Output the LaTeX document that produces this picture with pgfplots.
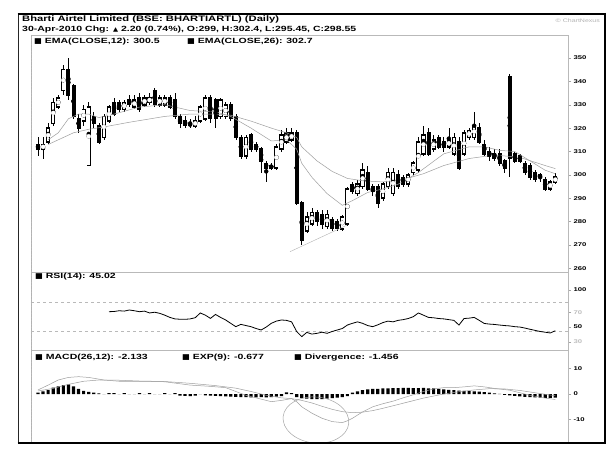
\documentclass[border=0pt]{standalone}
\usepackage{pgfplots}
\usepackage{pgfplotstable}
\pgfplotsset{compat=1.18}
\usepackage{fontspec}
\setmainfont{Liberation Sans}
\newfontfamily\hdr[FakeStretch=1.4]{Liberation Sans}
\newfontfamily\sym[FakeStretch=1.1]{DejaVu Sans}

\pgfplotstableread{
i o h l c t
0 313 316 308 311 1
1 311 316 307 313 0
2 314 322 313 320 0
3 322 333 321 331 0
4 329 334 328 333 0
5 336 347 334 345 0
6 345 350 332 334 1
7 338 339 324 325 1
8 324 326 318 320 1
9 323 330 321 328 0
10 304 331 304 329 0
11 325 327 320 322 1
12 321 322 313 314 1
13 316 326 315 325 0
14 323 330 322 329 0
15 331 333 325 326 1
16 331 332 327 328 1
17 328 332 327 331 0
18 332 334 329 330 1
19 329 334 328 332 0
20 333 335 327 328 1
21 330 334 329 333 0
22 331 335 330 333 0
23 336 337 329 330 1
24 330 334 329 333 0
25 330 334 329 333 0
26 333 334 328 329 1
27 332 335 324 325 1
28 325 326 320 322 1
29 323 325 320 321 1
30 322 324 320 321 1
31 321 325 320 323 0
32 323 330 322 329 0
33 324 334 323 333 0
34 333 334 322 324 1
35 332 333 320 324 1
36 325 333 324 332 0
37 325 331 324 330 0
38 330 331 323 324 1
39 325 326 315 316 1
40 316 317 307 308 1
41 308 317 307 316 0
42 317 318 310 311 1
43 313 314 310 311 1
44 311 312 301 306 1
45 305 306 297 303 1
46 304 305 302 303 1
47 303 313 302 312 0
48 311 319 310 317 0
49 314 320 313 318 0
50 315 320 314 318 0
51 318 319 287 288 1
52 288 289 270 272 1
53 276 284 275 282 0
54 279 286 278 284 0
55 284 285 278 280 1
56 283 285 277 279 1
57 278 285 277 283 0
58 281 282 276 277 1
59 280 281 276 277 1
60 277 283 276 282 0
61 279 295 278 294 0
62 296 297 292 293 1
63 292 298 291 296 0
64 295 305 294 302 0
65 301 304 293 294 1
66 295 296 291 293 1
67 295 296 286 288 1
68 290 297 289 296 0
69 295 303 294 301 0
70 292 303 291 301 0
71 300 302 294 295 1
72 299 300 295 296 1
73 296 301 295 300 0
74 301 306 300 305 0
75 302 316 301 314 0
76 309 321 308 317 0
77 318 320 308 309 1
78 311 317 310 315 0
79 316 317 311 312 1
80 314 316 310 312 1
81 312 320 311 315 0
82 309 318 308 316 0
83 314 316 302 303 1
84 309 319 308 318 0
85 316 320 315 319 0
86 316 327 315 321 0
87 320 322 313 314 1
88 313 315 308 309 1
89 310 312 306 308 1
90 309 311 306 307 1
91 309 311 304 305 1
92 306 307 301 303 1
93 342 343 299 307 1
94 309 310 305 306 1
95 308 309 305 306 1
96 305 306 300 301 1
97 304 305 298 299 1
98 301 302 297 298 1
99 300 301 297 299 1
100 298 299 293 294 1
101 294 298 293 297 0
102 297 301 296 299 0
}\candles

\pgfplotsset{
  panel/.style={
    scale only axis, anchor=north west, width=537pt,
    xmin=-1.38, xmax=104.5, xtick=\empty,
    axis line style={gray!55, line width=0.4pt},
    ytick pos=right, yticklabel pos=right, tick align=outside,
    major tick length=3pt, ytick style={gray!70, line width=0.4pt},
    /pgf/number format/assume math mode=true,
    yticklabel style={font=\hdr\bfseries\fontsize{5.5}{6}\selectfont, xshift=-1pt},
  },
  wick/.style={only marks, mark=none, black, forget plot,
    error bars/.cd, y dir=both, y explicit, error mark=none,
    error bar style={line width=0.6pt, black}},
}

\begin{document}
\begin{tikzpicture}
\path[fill=white] (0pt,0pt) rectangle (612pt,458pt);

% ---------------- price panel ----------------
\begin{axis}[panel, at={(31pt,423pt)}, height=237pt,
  ymin=258.5, ymax=359.8, ytick={260,270,...,350}]
\addplot[wick] table[x=i, y expr={(\thisrow{h}+\thisrow{l})/2},
  y error expr={(\thisrow{h}-\thisrow{l})/2}] {\candles};
\addplot[only marks, mark=none, black, forget plot,
  restrict expr to domain={\thisrow{t}}{0.5:1.5},
  error bars/.cd, y dir=both, y explicit, error mark=none,
  error bar style={line width=4pt, black}]
  table[x=i, y expr={(\thisrow{o}+\thisrow{c})/2},
  y error expr={abs(\thisrow{o}-\thisrow{c})/2+0.3}] {\candles};
\addplot[only marks, mark=none, black, forget plot,
  restrict expr to domain={\thisrow{t}}{-0.5:0.5},
  error bars/.cd, y dir=both, y explicit, error mark=none,
  error bar style={line width=4.2pt, black}]
  table[x=i, y expr={(\thisrow{o}+\thisrow{c})/2},
  y error expr={abs(\thisrow{o}-\thisrow{c})/2+0.35}] {\candles};
\addplot[only marks, mark=none, white, forget plot,
  restrict expr to domain={\thisrow{t}}{-0.5:0.5},
  error bars/.cd, y dir=both, y explicit, error mark=none,
  error bar style={line width=2.5pt, white}]
  table[x=i, y expr={(\thisrow{o}+\thisrow{c})/2},
  y error expr={max(abs(\thisrow{o}-\thisrow{c})/2-0.35,0)}] {\candles};
\addplot[gray!75, line width=0.5pt] coordinates {
(2,315) (4,318) (6,324) (8,326) (10,326) (12,324.5) (15,326) (20,329)
(25,330) (30,327.5) (35,327) (38,325) (42,320) (46,314.5) (49,315)
(51,311) (52,305) (54,299) (57,292) (60,287) (62,289) (65,292.5)
(68,294) (71,296) (75,301) (80,309) (85,312) (88,312) (91,310.5)
(94,310) (97,306) (100,302) (102,300.5)};
\addplot[gray!75, line width=0.5pt] coordinates {
(2,313) (5,316) (7,318) (10,319.5) (13,320.5) (18,322.5) (25,325)
(30,326) (35,326) (38,325.5) (42,323) (46,320) (49,318) (51,316)
(52,312) (55,306) (58,301.5) (61,298.5) (64,297.5) (68,297)
(72,298) (76,300.5) (80,304) (85,307) (90,308.5) (95,307.5)
(100,304) (102,302.7)};
\addplot[gray!60, line width=0.4pt] coordinates {(49.7,267.2) (61,278.6)};
\end{axis}

% ---------------- RSI panel ----------------
\begin{axis}[panel, at={(31pt,186pt)}, height=78pt,
  ymin=19, ymax=124.3, ytick={30,50,70,100},
  yticklabels={{\color{gray!50}30},50,{\color{gray!50}70},100}]
\addplot[gray!55, dashed, line width=0.4pt] coordinates {(-1.38,84) (104.5,84)};
\addplot[gray!55, dashed, line width=0.4pt] coordinates {(-1.38,44.6) (104.5,44.6)};
\addplot[black, line width=0.8pt] coordinates {
(14,70.7) (15,71) (16,72) (17,71.5) (18,73) (19,72) (20,70.7) (21,71.5)
(22,69) (23,70) (24,68.5) (25,66) (26,63) (27,61) (28,60.5) (29,60.4)
(30,61) (31,62.6) (32,69) (33,66) (34,61.7) (35,67) (36,63) (37,59.5)
(38,55) (39,50.5) (40,53.6) (41,52) (42,50.5) (43,48) (44,46) (45,50)
(46,55) (47,58) (48,59.5) (49,59) (50,57) (51,44) (52,37) (53,42.8)
(54,40.5) (55,41.5) (56,43) (57,41.5) (58,44) (59,46) (60,48) (61,52.7)
(62,55) (63,57) (64,55) (65,52) (66,50.5) (67,53) (68,56) (69,58)
(70,57) (71,59) (72,60) (73,61.5) (74,64) (75,69) (76,66) (77,63)
(78,62.5) (79,61.5) (80,61) (81,60) (82,59) (83,52.7) (84,61.5) (85,62)
(86,63) (87,59) (88,54.8) (89,54) (90,53.5) (91,52.7) (92,52) (93,51.5)
(94,50.5) (95,50) (96,48.6) (97,47) (98,45.5) (99,44) (100,43) (101,42)
(102,45.02)};
\end{axis}

% ---------------- MACD panel ----------------
\begin{axis}[panel, at={(31pt,108pt)}, height=92pt,
  ymin=-18.8, ymax=17.25, ytick={-10,0,10}]
\addplot[ybar, bar width=3.2pt, fill=black, draw=none] coordinates {
(0,0.5) (1,1) (2,1.5) (3,2.5) (4,3) (5,3.5) (6,3.8) (7,3) (8,2) (9,1.2)
(10,0.8) (11,0.5) (12,0.3) (13,0) (14,0.4) (15,0.4) (16,0) (17,0.4)
(18,0) (19,0) (20,0.4) (21,0) (22,0.4) (23,0) (24,0) (25,0.4) (26,0)
(27,0.4) (28,-0.6) (29,-0.7) (30,-0.8) (31,-0.6) (32,0) (33,-0.5)
(34,-0.6) (35,-0.7) (36,-0.8) (37,-0.9) (38,-1) (39,-1.1) (40,-1.2)
(41,-1.2) (42,-1.3) (43,-1.3) (44,-1.2) (45,-1.3) (46,-1.2) (47,-1)
(48,-0.8) (49,0.6) (50,0.4) (51,-1.2) (52,-1.6) (53,-1.8) (54,-2)
(55,-2) (56,-2) (57,-1.8) (58,-1.6) (59,-1.4) (60,-1.2) (61,-0.8)
(62,0.5) (63,1) (64,1.5) (65,1.8) (66,2) (67,2) (68,2.2) (69,2.2)
(70,2.3) (71,2.3) (72,2.4) (73,2.4) (74,2.3) (75,2.3) (76,2.4) (77,2.2)
(78,2.2) (79,2) (80,1.8) (81,1.6) (82,1.5) (83,1.3) (84,1.2) (85,1.1)
(86,1) (87,0.9) (88,0.7) (89,0.5) (90,0.3) (91,0.1) (92,-0.3) (93,-0.5)
(94,-0.7) (95,-0.9) (96,-1.1) (97,-1.2) (98,-1.3) (99,-1.4) (100,-1.5)
(101,-1.5) (102,-1.456)};
% MACD
\addplot[gray!75, line width=0.5pt] coordinates {
(0,1.6) (2,3.5) (4,5.5) (6,6.5) (8,6.8) (10,6.5) (13,5.5) (16,5) (20,5)
(25,4.8) (30,3.5) (34,3) (37,2.5) (39,1) (41,-0.5) (44,-2) (46,-3)
(48,-2.5) (50,-1.8) (51,-3) (52,-5) (54,-7.5) (56,-9.5) (58,-10.8)
(60,-11.2) (61,-10.5) (62,-9.5) (64,-7) (66,-5) (68,-3.8) (70,-2.8)
(72,-1.5) (74,-0.3) (76,1) (78,2) (80,2.5) (82,2.5) (84,2.8) (86,3.2)
(88,2.8) (90,2.2) (93,1.5) (95,0.5) (97,-0.5) (100,-1.6) (102,-2.133)};
% EXP(9)
\addplot[gray!75, line width=0.5pt] coordinates {
(0,1.2) (3,2.2) (6,3.8) (9,5) (12,5.5) (16,5.4) (20,5.1) (25,4.9)
(30,4.2) (35,3.3) (39,2.3) (42,1) (45,-0.5) (48,-1.5) (50,-1.8)
(52,-2.5) (54,-3.5) (56,-4.8) (58,-6) (60,-6.9) (62,-7.3) (64,-7.1)
(66,-6.5) (68,-5.6) (70,-4.6) (72,-3.6) (74,-2.6) (76,-1.6) (78,-0.8)
(80,0) (83,0.9) (86,1.6) (89,2.1) (92,2) (95,1.4) (98,0.5)
(100,-0.1) (102,-0.677)};
\draw[gray!70, line width=0.5pt, rotate around={-6:(axis cs:54.8,-10.2)}]
  (axis cs:54.8,-10.2) ellipse [x radius=33pt, y radius=23pt];
\end{axis}

\draw[gray!60, densely dotted, line width=0.4pt] (31pt,423pt) -- (31pt,16pt);

\draw[black!85, line width=0.6pt] (18pt,444pt) -- (18pt,15pt);
\draw[black, line width=1.6pt] (17.5pt,444pt) -- (605pt,444pt);
\draw[black, line width=2.6pt] (605pt,445pt) -- (605pt,14pt);
\draw[black, line width=2.6pt] (17.5pt,15pt) -- (606pt,15pt);

\begin{scope}[every node/.style={anchor=west, inner sep=0pt,
  font=\hdr\bfseries\fontsize{7.5}{8}\selectfont}]
\node[font=\hdr\bfseries\fontsize{8}{9}\selectfont] at (22pt,439pt) {Bharti Airtel Limited (BSE: BHARTIARTL) (Daily)};
\node at (22pt,428.5pt) {30-Apr-2010 Chg: {\sym\fontsize{6}{7}\selectfont ▲} 2.20 (0.74\%), O:299, H:302.4, L:295.45, C:298.55};
\node at (34pt,416pt) {{\sym■} EMA(CLOSE,12): 300.5};
\node at (187pt,416pt) {{\sym■} EMA(CLOSE,26): 302.7};
\node at (35pt,181.5pt) {{\sym■} RSI(14): 45.02};
\node at (35pt,100pt) {{\sym■} MACD(26,12): -2.133};
\node at (182pt,100pt) {{\sym■} EXP(9): -0.677};
\node at (294pt,100pt) {{\sym■} Divergence: -1.456};
\end{scope}
\node[anchor=east, inner sep=0pt, text=gray!60,
  font=\hdr\fontsize{5}{6}\selectfont] at (600pt,437pt) {\copyright\ ChartNexus};
\end{tikzpicture}
\end{document}
